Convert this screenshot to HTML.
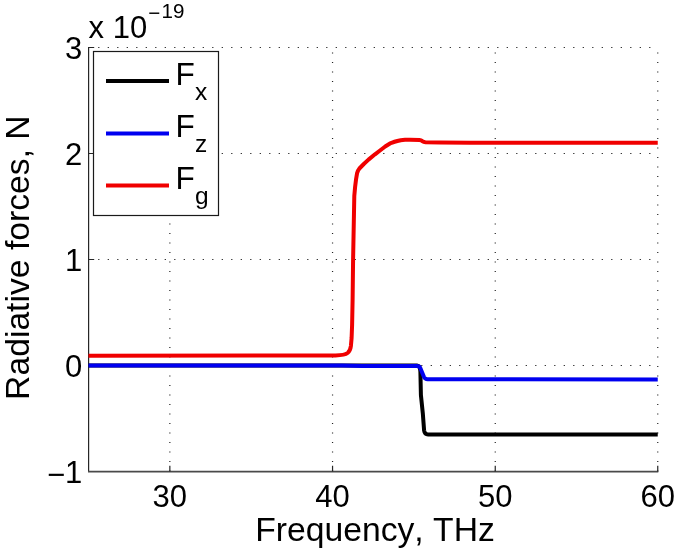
<!DOCTYPE html>
<html><head><meta charset="utf-8"><title>Radiative forces vs Frequency</title>
<style>
html,body{margin:0;padding:0;background:#fff;}
body{width:675px;height:549px;overflow:hidden;}
svg{display:block;}
text{font-family:"Liberation Sans",Arial,Helvetica,sans-serif;fill:#000;font-kerning:none;}
</style></head>
<body>
<svg width="675" height="549" viewBox="0 0 675 549">
<rect x="0" y="0" width="675" height="549" fill="#fff"/>
<!-- grid (dotted) -->
<g stroke="#222" stroke-width="1.2" fill="none" stroke-dasharray="1.2 8.3">
  <path d="M88.7 47.5H658"/>
  <path d="M88.7 153.5H658"/>
  <path d="M88.7 259.5H658"/>
  <path d="M88.7 365.5H658"/>
  <path d="M169.85 471.6V47"/>
  <path d="M332.55 471.6V47"/>
  <path d="M495.25 471.6V47"/>
  <path d="M657.75 471.6V47"/>
</g>
<!-- axes -->
<g stroke="#262626" stroke-width="1.2" fill="none">
  <path d="M88.6 47V472.1"/>
  <path d="M88 471.7H658.3" stroke="#4a4a4a" stroke-width="1.7"/>
  <path d="M88.6 47.5H94.2M88.6 153.5H94.2M88.6 259.5H94.2M88.6 365.5H94.2"/>
  <path d="M169.85 471.5V465.8M332.55 471.5V465.8M495.25 471.5V465.8M657.75 471.5V465.8"/>
</g>
<!-- data -->
<g fill="none" stroke-width="4" stroke-linejoin="round" stroke-linecap="butt">
  <path stroke="#000" d="M88.5 365.6L417 365.6C419.5 365.8 420.2 368 420.4 372L420.9 395L422.8 413.2L424.1 430.5C424.5 433.4 425.5 434.4 428 434.4L657.75 434.5"/>
  <path stroke="#0000f0" d="M88.5 365.5L342 365.5L362 366.1L417 366.1C418.8 366.2 419.6 366.5 420.3 368L424 377C424.8 378.7 425.6 379.3 427.5 379.3L657.75 379.5"/>
  <path stroke="#f00000" d="M88.5 355.7L335.5 355.5C341 355.3 345.5 354.6 347.6 353C349.6 351.4 350.5 349.3 350.9 346L351.6 338L352.1 325L352.6 300L353.1 259L354.3 196L355.1 187L356 179.7L357.1 173.1C357.8 170.8 358.5 169.6 359.4 168.5L363.8 164L368.5 159.6L375 154.3L380 150.5L385.2 146.5L390.4 143.3C393 142 395 141.4 400.7 140.2L405 139.8L410 139.7L419.5 139.9C420.8 140 421.5 140.4 422.3 141.1C423.2 141.8 424 142.1 425.5 142.2L440 142.4L470 142.8L657.75 142.8"/>
</g>
<!-- legend -->
<rect x="93.5" y="51.5" width="125" height="164" fill="#fff" stroke="#1a1a1a" stroke-width="1.2"/>
<g stroke-width="4" fill="none">
  <path stroke="#000" d="M106 81H169"/>
  <path stroke="#0000f0" d="M106 133.4H169"/>
  <path stroke="#f00000" d="M106 185.4H169"/>
</g>
<g font-size="31.6">
  <text x="175.6" y="84.6">F</text>
  <text x="175.6" y="136.6">F</text>
  <text x="175.6" y="188.6">F</text>
</g>
<g font-size="24.5">
  <text x="195" y="100.4">x</text>
  <text x="195" y="152.4">z</text>
  <text x="195" y="204.4">g</text>
</g>
<!-- tick labels -->
<g font-size="31" text-anchor="end">
  <text x="82.3" y="58.6">3</text>
  <text x="82.3" y="164.7">2</text>
  <text x="82.3" y="270.9">1</text>
  <text x="82.3" y="376.8">0</text>
  <text x="82.3" y="482.8"><tspan dy="2.5">−</tspan><tspan dy="-2.5">1</tspan></text>
</g>
<g font-size="31" text-anchor="middle">
  <text x="169.85" y="506.8">30</text>
  <text x="332.55" y="506.8">40</text>
  <text x="495.25" y="506.8">50</text>
  <text x="657.75" y="506.8">60</text>
</g>
<!-- exponent -->
<text x="88.6" y="37.9" font-size="31">x 10</text>
<text x="148.3" y="17.7" font-size="20.6"><tspan dy="1.9">−</tspan><tspan dx="1.1" dy="-1.9">19</tspan></text>
<!-- labels -->
<text x="255.2" y="541" font-size="33.7">Frequency, THz</text>
<text transform="translate(28.8 399.9) rotate(-90)" font-size="33.7">Radiative forces, N</text>
</svg>
</body></html>
